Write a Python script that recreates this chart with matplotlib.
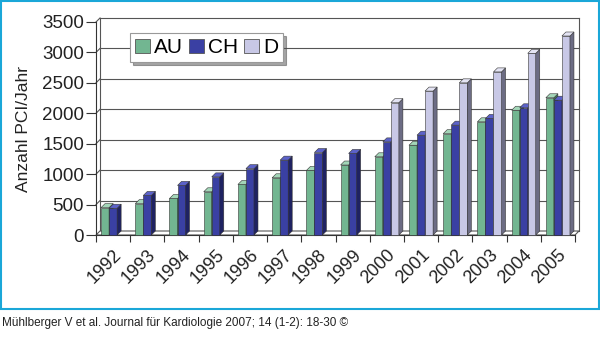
import numpy as np
import matplotlib
matplotlib.use('Agg')
import matplotlib.pyplot as plt
from matplotlib.patches import Polygon, Rectangle, Patch

years = ['1992', '1993', '1994', '1995', '1996', '1997', '1998',
         '1999', '2000', '2001', '2002', '2003', '2004', '2005']
au = [450, 515, 600, 710, 830, 940, 1060, 1150, 1285, 1475, 1665, 1860, 2050, 2255]
ch = [440, 650, 815, 955, 1090, 1230, 1355, 1340, 1530, 1640, 1805, 1915, 2090, 2215]
d = [None] * 8 + [2175, 2365, 2500, 2680, 2985, 3270]

series = [('AU', au), ('CH', ch), ('D', d)]
# front, top, side colours
colors = {
    'AU': ('#72b691', '#a3d6b8', '#3f7a5b'),
    'CH': ('#3a40a3', '#5c62c9', '#1f2262'),
    'D': ('#c8c8e6', '#e4e4f4', '#6c6c84'),
}

plt.rcParams['font.family'] = ['Liberation Sans', 'DejaVu Sans']

fig = plt.figure(figsize=(6, 3.61), dpi=100)
ax = fig.add_axes([96 / 600, 1 - 235 / 361, 479 / 600, 213 / 361])

ymax = 3500
n = len(years)
xmin, xmax = -0.5, n - 0.5
ax.set_xlim(xmin, xmax)
ax.set_ylim(0, ymax)

# depth offset of the 3D look, 4 px right and up, converted to data units
depth_px = 4
dx = depth_px * (xmax - xmin) / (479)
dy = depth_px * ymax / 213

# back wall frame and gridlines
line_kw = dict(color='#555555', lw=0.8, clip_on=False, zorder=1)
for v in range(500, ymax + 1, 500):
    ax.plot([xmin + dx, xmax + dx], [v + dy, v + dy], **line_kw)
    ax.plot([xmin, xmin + dx], [v, v + dy], **line_kw)
ax.plot([xmin + dx, xmin + dx], [dy, ymax + dy], **line_kw)
ax.plot([xmax + dx, xmax + dx], [dy, ymax + dy], **line_kw)

# floor
floor = Polygon([(xmin, 0), (xmax, 0), (xmax + dx, dy), (xmin + dx, dy)],
                closed=True, facecolor='white', edgecolor='#555555', lw=0.8,
                clip_on=False, zorder=1)
ax.add_patch(floor)

bw = 0.235
offsets = [-bw, 0, bw]
z = 2
for i in range(n):
    for (name, vals), off in zip(series, offsets):
        h = vals[i]
        if h is None:
            continue
        front, top, side = colors[name]
        x0 = i + off - bw / 2
        x1 = i + off + bw / 2
        ax.add_patch(Rectangle((x0, 0), bw, h, facecolor=front,
                               edgecolor='#333333', lw=0.4, zorder=z, clip_on=False))
        ax.add_patch(Polygon([(x1, 0), (x1 + dx, dy), (x1 + dx, h + dy), (x1, h)],
                             closed=True, facecolor=side, edgecolor='#333333',
                             lw=0.4, zorder=z, clip_on=False))
        ax.add_patch(Polygon([(x0, h), (x1, h), (x1 + dx, h + dy), (x0 + dx, h + dy)],
                             closed=True, facecolor=top, edgecolor='#333333',
                             lw=0.4, zorder=z, clip_on=False))
        z += 1

# axes
for s in ['top', 'right']:
    ax.spines[s].set_visible(False)
ax.spines['left'].set_color('#333333')
ax.spines['bottom'].set_color('#333333')
ax.spines['left'].set_linewidth(0.8)
ax.spines['bottom'].set_linewidth(0.8)

ax.set_yticks(range(0, ymax + 1, 500))
ax.tick_params(axis='y', direction='out', length=7, width=0.8, color='#333333',
               labelsize=13.5, pad=1.5, labelcolor='#222222')
ax.set_xticks(range(n))
ax.set_xticklabels(years, rotation=45, ha='right', rotation_mode='anchor')
ax.set_xticks(np.arange(xmin, xmax + 0.01, 1), minor=True)
ax.tick_params(axis='x', which='major', length=0, labelsize=13, pad=8,
               labelcolor='#222222')
ax.tick_params(axis='x', which='minor', direction='out', length=5, width=0.8,
               color='#333333')
ax.set_ylabel('Anzahl PCI/Jahr', fontsize=12.5, color='#222222')
ax.yaxis.set_label_coords((31 - 96) / 479, 0.5)

handles = [Patch(facecolor=colors[name][0], edgecolor='#555555', lw=0.6)
           for name, _ in series]
leg = ax.legend(handles, [name for name, _ in series], ncol=3, fontsize=15,
                loc='upper left', bbox_to_anchor=((130 - 96) / 479, (235 - 33) / 213),
                borderaxespad=0, frameon=True, fancybox=False, shadow=True,
                handlelength=0.7, handleheight=0.7, handletextpad=0.2,
                columnspacing=0.3, borderpad=0.25)
leg.get_frame().set_edgecolor('#999999')
leg.get_frame().set_linewidth(0.8)
leg.set_zorder(100)

# cyan frame round the chart and the source line
fig.patches.append(Rectangle((0.5 / 600, 1 - 309 / 361), 598.5 / 600, 308 / 361,
                             transform=fig.transFigure, fill=False,
                             edgecolor='#1aa7d8', lw=1.5))
fig.text(2 / 600, 1 - 323 / 361,
         'Mühlberger V et al. Journal für Kardiologie 2007; 14 (1-2): 18-30 ©',
         fontsize=8.5, va='center', ha='left', color='#222222')

fig.savefig('out.png', dpi=100)
